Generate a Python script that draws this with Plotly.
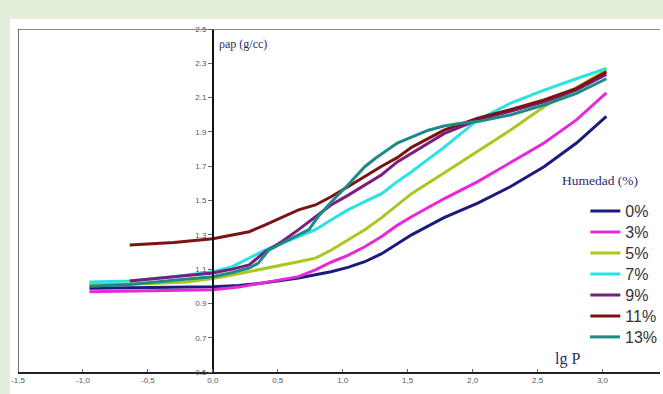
import plotly.graph_objects as go

# ---- data ----
series_names = ["0%", "3%", "5%", "7%", "9%", "11%", "13%"]
series_colors = ["#1b1b7d", "#e629d8", "#a9c81f", "#27e3e6", "#7a1c80", "#7c1313", "#1d8a86"]

x_0 = [-0.95, -0.6, -0.3, 0, 0.2, 0.4, 0.66, 0.91, 1.04, 1.17, 1.30, 1.42, 1.53, 1.78, 2.04, 2.29, 2.42, 2.55, 2.80, 3.03]
y_0 = [0.988, 0.99, 0.993, 0.997, 1.005, 1.02, 1.048, 1.085, 1.11, 1.143, 1.19, 1.25, 1.30, 1.40, 1.485, 1.58, 1.64, 1.697, 1.835, 1.99]

x_3 = [-0.95, -0.5, 0, 0.2, 0.4, 0.66, 0.79, 0.91, 1.04, 1.17, 1.30, 1.42, 1.53, 1.78, 2.04, 2.29, 2.55, 2.80, 3.03]
y_3 = [0.968, 0.972, 0.98, 0.995, 1.02, 1.056, 1.095, 1.14, 1.18, 1.23, 1.29, 1.355, 1.405, 1.51, 1.61, 1.72, 1.835, 1.97, 2.127]

x_5 = [-0.95, -0.5, -0.2, 0, 0.15, 0.28, 0.40, 0.53, 0.66, 0.79, 0.91, 1.04, 1.17, 1.30, 1.42, 1.53, 1.78, 2.04, 2.29, 2.55, 2.80, 3.03]
y_5 = [1.01, 1.015, 1.025, 1.045, 1.066, 1.085, 1.106, 1.124, 1.143, 1.164, 1.21, 1.27, 1.33, 1.40, 1.474, 1.54, 1.66, 1.785, 1.91, 2.047, 2.16, 2.26]

x_7 = [-0.95, -0.64, -0.3, 0, 0.15, 0.28, 0.40, 0.53, 0.66, 0.79, 0.91, 1.04, 1.17, 1.30, 1.42, 1.53, 1.78, 2.04, 2.29, 2.55, 2.80, 3.03]
y_7 = [1.025, 1.03, 1.055, 1.085, 1.114, 1.164, 1.21, 1.25, 1.29, 1.33, 1.386, 1.445, 1.493, 1.54, 1.61, 1.668, 1.81, 1.97, 2.067, 2.144, 2.21, 2.27]

x_9 = [-0.64, -0.3, 0, 0.15, 0.28, 0.40, 0.53, 0.66, 0.79, 0.91, 1.04, 1.17, 1.30, 1.42, 1.53, 1.78, 1.96, 2.04, 2.29, 2.55, 2.80, 3.03]
y_9 = [1.03, 1.055, 1.077, 1.10, 1.124, 1.20, 1.26, 1.33, 1.405, 1.474, 1.53, 1.59, 1.65, 1.725, 1.775, 1.89, 1.945, 1.97, 2.02, 2.075, 2.145, 2.235]

x_11 = [-0.64, -0.3, 0, 0.28, 0.40, 0.53, 0.66, 0.79, 0.91, 1.04, 1.17, 1.30, 1.42, 1.53, 1.78, 2.04, 2.29, 2.55, 2.80, 3.03]
y_11 = [1.24, 1.255, 1.277, 1.318, 1.357, 1.40, 1.445, 1.474, 1.522, 1.58, 1.64, 1.70, 1.75, 1.81, 1.91, 1.98, 2.03, 2.086, 2.154, 2.25]

x_13 = [-0.95, -0.64, -0.3, 0, 0.15, 0.28, 0.35, 0.43, 0.53, 0.66, 0.74, 0.81, 0.91, 1.04, 1.17, 1.25, 1.30, 1.42, 1.53, 1.66, 1.78, 1.91, 2.04, 2.29, 2.55, 2.80, 3.03]
y_13 = [1.0, 1.01, 1.035, 1.056, 1.08, 1.106, 1.135, 1.21, 1.25, 1.30, 1.33, 1.405, 1.49, 1.59, 1.697, 1.745, 1.77, 1.835, 1.87, 1.91, 1.934, 1.95, 1.96, 1.999, 2.057, 2.125, 2.21]

xs = [x_0, x_3, x_5, x_7, x_9, x_11, x_13]
ys = [y_0, y_3, y_5, y_7, y_9, y_11, y_13]

x_tickvals = [-1.5, -1.0, -0.5, 0.0, 0.5, 1.0, 1.5, 2.0, 2.5, 3.0]
x_ticktext = ["-1,5", "-1,0", "-0,5", "0,0", "0,5", "1,0", "1,5", "2,0", "2,5", "3,0"]
y_tickvals = [0.5, 0.7, 0.9, 1.1, 1.3, 1.5, 1.7, 1.9, 2.1, 2.3, 2.5]
y_ticktext = ["0.5", "0.7", "0.9", "1.1", "1.3", "1.5", "1.7", "1.9", "2.1", "2.3", "2.5"]

X_MIN, X_MAX = -1.5, 3.443
Y_MIN, Y_MAX = 0.5, 2.5

W, H = 663, 394
ML, MR, MT, MB = 18, 0, 29, 22
PW, PH = W - ML - MR, H - MT - MB

fig = go.Figure()
legend_defs = {}
legend_font = dict(family="Arial, Liberation Sans, sans-serif", size=16, color="#333333")
for i, (name, color, x, y) in enumerate(zip(series_names, series_colors, xs, ys)):
    lg = "legend" if i == 0 else f"legend{i + 1}"
    fig.add_trace(go.Scatter(x=x, y=y, mode="lines", name=name, legend=lg,
                             line=dict(color=color, width=3)))
    row_px = 211 + 21 * i
    legend_defs[lg] = dict(x=(588 - ML) / PW, xanchor="left",
                           y=(H - MB - row_px) / PH, yanchor="middle",
                           bgcolor="rgba(0,0,0,0)", font=legend_font, borderwidth=0)

navy = "#2b2b66"
serif = "Liberation Serif, Times New Roman, serif"
tickfont = dict(family="Arial, Liberation Sans, sans-serif", size=8, color="#555555")

fig.update_layout(
    width=W, height=H,
    margin=dict(l=ML, r=MR, t=MT, b=MB),
    paper_bgcolor="#e3eedb",
    plot_bgcolor="white",
    showlegend=True,
    xaxis=dict(range=[X_MIN, X_MAX], tickvals=x_tickvals, ticktext=x_ticktext,
               showgrid=False, zeroline=False, showline=True, linecolor="#222222", linewidth=1.5,
               ticks="inside", ticklen=3, tickcolor="#666666", tickfont=tickfont),
    yaxis=dict(range=[Y_MIN, Y_MAX], tickvals=y_tickvals, ticktext=y_ticktext,
               showgrid=False, zeroline=False, showline=True, linecolor="#111111", linewidth=1.5,
               anchor="free", position=(0 - X_MIN) / (X_MAX - X_MIN),
               ticks="outside", ticklen=4, tickcolor="#666666", tickfont=tickfont),
    shapes=[
        dict(type="rect", xref="paper", yref="paper", x0=-8 / PW, x1=1.05, y0=-0.2, y1=1 + 10 / PH,
             fillcolor="white", line=dict(width=0), layer="below"),
        dict(type="line", xref="x", yref="y", x0=-1.5, x1=3.5, y0=2.5, y1=2.5,
             line=dict(color="#666666", width=1.5)),
        dict(type="line", xref="x", yref="y", x0=-1.5, x1=-1.5, y0=0.5, y1=2.5,
             line=dict(color="#444444", width=1.5)),
    ],
    annotations=[
        dict(text="ρap (g/cc)", x=0.03, y=2.41, xref="x", yref="y", xanchor="left", showarrow=False,
             font=dict(family=serif, size=12, color=navy)),
        dict(text="Humedad (%)", x=2.67, y=1.615, xref="x", yref="y", xanchor="left", showarrow=False,
             font=dict(family=serif, size=13.5, color=navy)),
        dict(text="lg P", x=2.62, y=0.575, xref="x", yref="y", xanchor="left", showarrow=False,
             font=dict(family=serif, size=16, color=navy)),
        dict(text="3,5", x=3.5, y=-0.045, xref="x", yref="paper", xanchor="center", yanchor="top",
             xshift=-5, showarrow=False, font=tickfont),
    ],
)
fig.update_layout(**legend_defs)

fig.write_html("out.html", config={"displayModeBar": False},
               post_script="document.body.style.margin='0';document.body.style.background='#e3eedb';")
